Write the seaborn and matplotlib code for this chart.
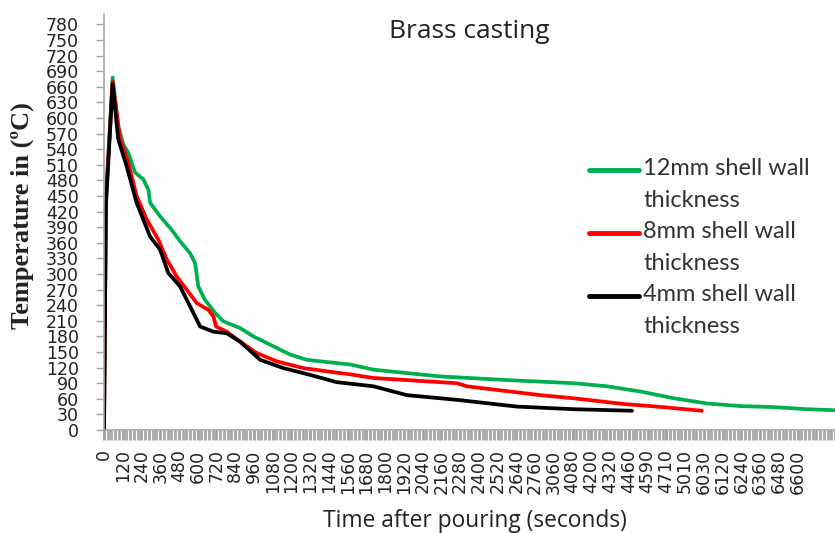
import matplotlib
matplotlib.use("Agg")
import matplotlib.pyplot as plt
from matplotlib.legend_handler import HandlerLine2D
import seaborn as sns
import pandas as pd
import numpy as np

# Category-axis tick labels (time after pouring, seconds)
time_labels = ["0", "120", "240", "360", "480", "600", "720", "840", "960", "1080",
               "1200", "1320", "1440", "1560", "1680", "1800", "1920", "2040", "2160",
               "2280", "2400", "2520", "2640", "2760", "3060", "4080", "4200", "4320",
               "4460", "4590", "4710", "5010", "6030", "6120", "6240", "6360", "6480", "6600"]

# Series: position along the category axis and temperature (°C)
pos_12mm = [0, 0.1, 0.46, 0.76, 1.03, 1.30, 1.66, 2.10, 2.37, 2.46, 2.99, 3.61, 4.06, 4.59,
            4.86, 5.03, 5.39, 5.93, 6.37, 7.26, 7.97, 9.04, 9.93, 10.82, 12.07, 13.13, 14.38,
            17.94, 21.5, 25.06, 26.84, 28.62, 30.4, 32.18, 33.96, 35.73, 37.51, 39.0]
temp_12mm = [0, 443, 678, 584, 549, 533, 495, 482, 462, 437, 411, 385, 363, 340,
             321, 276, 250, 225, 209, 196, 180, 161, 145, 135, 130, 126, 116,
             103, 96, 90, 84, 74, 61, 51, 46, 44, 40, 38]

pos_8mm = [0, 0.1, 0.46, 0.85, 1.30, 1.74, 2.28, 2.90, 3.35, 3.88, 4.41, 4.95, 5.57, 5.84,
           5.98, 6.55, 7.26, 8.15, 9.22, 10.64, 12.07, 13.13, 14.38, 18.83, 19.36, 23.28,
           25.06, 27.73, 29.51, 31.9]
temp_8mm = [0, 440, 670, 562, 514, 450, 405, 366, 328, 295, 270, 244, 231, 218,
            199, 189, 170, 148, 132, 119, 112, 107, 100, 90, 84, 67,
            61, 50, 45, 37]

pos_4mm = [0, 0.1, 0.46, 0.76, 1.21, 1.74, 2.46, 2.99, 3.43, 4.06, 4.59, 5.13, 5.84, 6.55,
           7.26, 8.33, 9.57, 10.99, 12.42, 14.38, 16.16, 18.83, 22.03, 25.06, 28.17]
temp_4mm = [0, 430, 665, 559, 507, 437, 372, 347, 302, 276, 238, 199, 189, 186,
            170, 135, 119, 106, 92, 84, 67, 58, 45, 40, 37]

series_names = ["12mm shell wall\nthickness", "8mm shell wall\nthickness", "4mm shell wall\nthickness"]
series_colors = ["#00B050", "#FF0000", "#000000"]

sns.set_theme(style="white")
plt.rcParams['font.family'] = ['DejaVu Sans']

df = pd.concat([
    pd.DataFrame({"pos": pos_12mm, "temp": temp_12mm, "series": series_names[0]}),
    pd.DataFrame({"pos": pos_8mm, "temp": temp_8mm, "series": series_names[1]}),
    pd.DataFrame({"pos": pos_4mm, "temp": temp_4mm, "series": series_names[2]}),
], ignore_index=True)

fig = plt.figure(figsize=(8.35, 5.33), dpi=100)
ax = fig.add_axes([104 / 835, 103 / 533, 731 / 835, (430 - 14) / 533])

sns.lineplot(data=df, x="pos", y="temp", hue="series", hue_order=series_names,
             palette=series_colors, sort=False, estimator=None, linewidth=2.7, ax=ax)

ax.set_xlim(0, 39)
ax.set_ylim(0, 800)
ax.set_yticks(range(0, 781, 30))
ax.set_xticks(range(len(time_labels)))
ax.set_xticklabels(time_labels, rotation=90)
ax.set_xticks(np.arange(0, 39.01, 0.2), minor=True)
ax.set_xlabel("")
ax.set_ylabel("")

gray = "#a6a6a6"
ax.tick_params(axis="y", which="major", direction="out", length=6, width=1, color=gray,
               labelsize=12.5, pad=12, labelcolor="#222222", left=True)
ax.tick_params(axis="x", which="major", direction="out", length=7, width=2, color="#a0a0a0",
               labelsize=12.5, pad=7, labelcolor="#222222", bottom=True)
ax.tick_params(axis="x", which="minor", direction="out", length=7, width=2, color="#a8a8a8",
               bottom=True)
for s in ["top", "right"]:
    ax.spines[s].set_visible(False)
ax.spines["left"].set_color(gray)
ax.spines["left"].set_linewidth(1.2)
ax.spines["bottom"].set_color(gray)
ax.spines["bottom"].set_linewidth(1.2)


class TopAlignedLine(HandlerLine2D):
    """Place the legend line level with the first line of a two-line label."""
    def create_artists(self, legend, orig_handle, xdescent, ydescent, width, height,
                       fontsize, trans):
        artists = super().create_artists(legend, orig_handle, xdescent, ydescent, width,
                                          height, fontsize, trans)
        for a in artists:
            a.set_ydata(np.asarray(a.get_ydata(), dtype=float) + 11.0)
        return artists


handles, labels = ax.get_legend_handles_labels()
leg = ax.legend(handles, labels, loc="upper left", bbox_to_anchor=(589 / 835, 1 - 158 / 533),
                bbox_transform=fig.transFigure, frameon=False,
                prop={"family": "Lato", "size": 17}, handlelength=2.1, handletextpad=0.2,
                labelspacing=0.42, borderpad=0, borderaxespad=0,
                handler_map={h: TopAlignedLine() for h in handles})
for t in leg.get_texts():
    t.set_color("#333333")
    t.set_linespacing(1.66)
for l in leg.get_lines():
    l.set_linewidth(3.5)

fig.text(469 / 835, 1 - 32 / 533, "Brass casting", fontfamily="Open Sans", fontsize=19,
         ha="center", va="center", color="#222222")
fig.text(475 / 835, 1 - 521 / 533, "Time after pouring (seconds)", fontfamily="Open Sans",
         fontsize=16.4, ha="center", va="center", color="#222222")
fig.text(22 / 835, 1 - 216 / 533, "Temperature in (ºC)", fontfamily="Liberation Serif",
         fontweight="bold", fontsize=19, rotation=90, ha="center", va="center", color="#222222")

fig.savefig("out.png", dpi=100)
